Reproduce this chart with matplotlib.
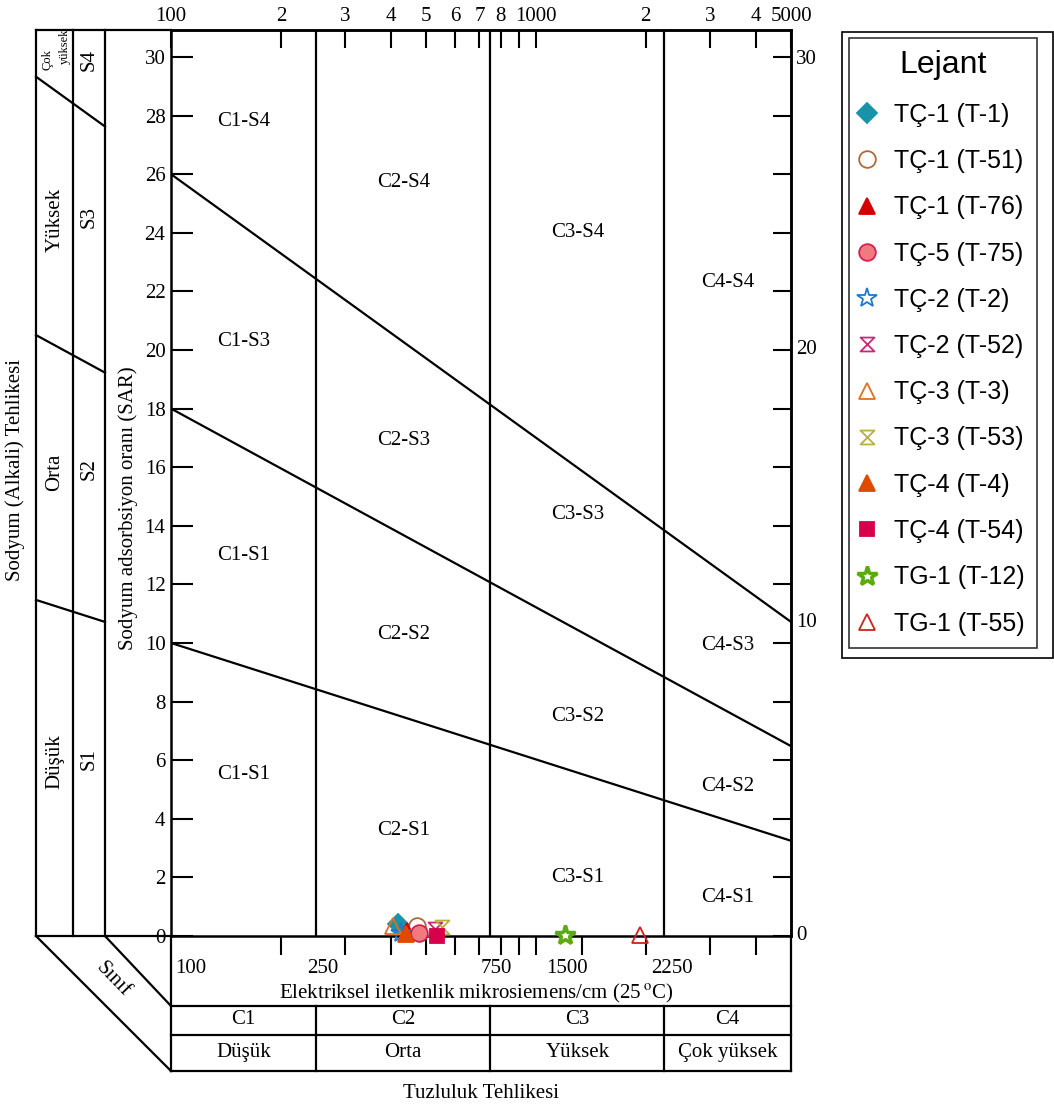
import matplotlib.pyplot as plt
import numpy as np
from matplotlib.path import Path
from matplotlib.patches import Rectangle

# ABD Tuzluluk Laboratuvarı (US Salinity) diyagramı - sulama suyu sınıflaması
plt.rcParams['font.family'] = ['Liberation Serif', 'DejaVu Serif']
plt.rcParams['mathtext.fontset'] = 'stix'

# Örnek noktaları: EC (mikrosiemens/cm) ve SAR
ornekler = ['TÇ-1 (T-1)', 'TÇ-1 (T-51)', 'TÇ-1 (T-76)', 'TÇ-5 (T-75)',
            'TÇ-2 (T-2)', 'TÇ-2 (T-52)', 'TÇ-3 (T-3)', 'TÇ-3 (T-53)',
            'TÇ-4 (T-4)', 'TÇ-4 (T-54)', 'TG-1 (T-12)', 'TG-1 (T-55)']
ec = [419, 472, 444, 478, 427, 529, 406, 552, 440, 535, 1200, 1928]
sar = [0.41, 0.34, 0.17, 0.10, 0.10, 0.24, 0.34, 0.31, 0.07, 0.0, 0.03, 0.05]

# Sınıf sınırları
ec_sinirlar = [250, 750, 2250]
sar_100 = [10, 18, 26]          # EC = 100'deki SAR sınır değerleri
sar_5000 = [3.25, 6.48, 10.72]  # EC = 5000'deki SAR sınır değerleri

c_siniflar = ['C1', 'C2', 'C3', 'C4']
c_adlar = ['Düşük', 'Orta', 'Yüksek', 'Çok yüksek']
bolgeler = [['C1-S1', 'C1-S1', 'C1-S3', 'C1-S4'],
            ['C2-S1', 'C2-S2', 'C2-S3', 'C2-S4'],
            ['C3-S1', 'C3-S2', 'C3-S3', 'C3-S4'],
            ['C4-S1', 'C4-S2', 'C4-S3', 'C4-S4']]
bolge_sar = [[5.5, 13.0, 20.3, 27.8],
             [3.6, 10.3, 16.9, 25.7],
             [2.0, 7.5, 14.4, 24.0],
             [1.3, 5.1, 9.9, 22.3]]

ust_tikler = [100, 200, 300, 400, 500, 600, 700, 800, 900, 1000, 2000, 3000, 4000, 5000]
ust_etiketler = ['100', '2', '3', '4', '5', '6', '7', '8', '', '1000', '2', '3', '4', '5000']
alt_tikler = [200, 300, 400, 500, 600, 700, 800, 900, 1000, 1340, 2000, 3000, 4000]
alt_etiketler = ['100', '250', '750', '1500', '2250']
alt_etiket_x = [113, 261, 781, 1216, 2361]

# Kum saati işareti
kum_saati = Path([(-1, 1), (1, 1), (-1, -1), (1, -1), (-1, 1)],
                 [Path.MOVETO, Path.LINETO, Path.LINETO, Path.LINETO, Path.CLOSEPOLY])

stiller = [
    dict(marker='D', color='#1a93a8', mfc='#1a93a8', ms=10),
    dict(marker='o', color='#b0693a', mfc='none', ms=12),
    dict(marker='^', color='#d40000', mfc='#d40000', ms=12),
    dict(marker='o', color='#d42050', mfc='#f07a80', ms=12),
    dict(marker='*', color='#1f78c8', mfc='none', ms=15),
    dict(marker=kum_saati, color='#c8287a', mfc='none', ms=10),
    dict(marker='^', color='#e07020', mfc='none', ms=12),
    dict(marker=kum_saati, color='#b8b040', mfc='none', ms=10),
    dict(marker='^', color='#e04a00', mfc='#e04a00', ms=12),
    dict(marker='s', color='#d8004a', mfc='#d8004a', ms=10),
    dict(marker='*', color='#5aaa10', mfc='white', ms=15, mew=2.5),
    dict(marker='^', color='#d02020', mfc='none', ms=12),
]

W, H = 1054, 1104
fig = plt.figure(figsize=(W / 100, H / 100), dpi=100)

# Çerçeve çizgileri için piksel koordinatlı arka eksen
cerceve = fig.add_axes([0, 0, 1, 1], zorder=-1)
cerceve.set_xlim(0, W)
cerceve.set_ylim(H, 0)
cerceve.axis('off')

ax = fig.add_axes([171 / W, 1 - 936 / H, 620 / W, 906 / H])
ax.set_xscale('log')
ax.set_xlim(100, 5000)
ax.set_ylim(0, 30.92)
for sp in ax.spines.values():
    sp.set_linewidth(1.8)

lw = 1.6
# Sol panel (sodyum tehlikesi sınıfları)
for x in [36, 73, 105]:
    cerceve.plot([x, x], [30, 936], color='k', lw=lw)
cerceve.plot([36, 171], [30, 30], color='k', lw=lw)
cerceve.plot([36, 171], [936, 936], color='k', lw=lw)
cerceve.plot([36, 171], [936, 1071], color='k', lw=lw)
cerceve.plot([105, 171], [936, 1006], color='k', lw=lw)
# Alt tablo
for x in [171, 791]:
    cerceve.plot([x, x], [936, 1071], color='k', lw=lw)
for y in [1006, 1035, 1071]:
    cerceve.plot([171, 791], [y, y], color='k', lw=lw)

# Sınıf sınırları (dikey)
for e in ec_sinirlar:
    ax.plot([e, e], [0, 1], color='k', lw=lw, transform=ax.get_xaxis_transform())
    ax.plot([e, e], [-0.0773, -0.149], color='k', lw=lw,
            transform=ax.get_xaxis_transform(), clip_on=False)

# SAR sınır çizgileri (log EC'ye göre doğrusal)
log_genislik = np.log10(5000) - np.log10(100)
for s1, s2 in zip(sar_100, sar_5000):
    ax.plot([100, 5000], [s1, s2], color='k', lw=lw)
    # Sol paneldeki uzantı
    kx = np.array([(36 - 171) / 620, (105 - 171) / 620])
    ex = 10 ** (2 + kx * log_genislik)
    ey = s1 + (s2 - s1) * kx
    ax.plot(ex, ey, color='k', lw=lw, clip_on=False)

# Eksen tikleri
ax.set_yticks(range(0, 31, 2))
ax.tick_params(axis='y', left=True, right=False, direction='in', length=16,
               width=1.5, labelsize=15, pad=4)
ax.set_xticks(alt_tikler)
ax.set_xticks([], minor=True)
ax.tick_params(axis='x', which='both', bottom=True, top=False, direction='out',
               length=14, width=1.5, labelbottom=False)

ust = ax.secondary_xaxis('top')
ust.set_xticks(ust_tikler)
ust.set_xticks([], minor=True)
ust.set_xticklabels(ust_etiketler)
ust.tick_params(direction='in', length=13, width=1.5, labelsize=15, pad=3)
ust.spines['top'].set_linewidth(1.8)

sag = ax.secondary_yaxis('right')
sag.set_yticks(range(0, 31, 2))
sag.set_yticklabels([])
sag.tick_params(direction='in', length=13, width=1.5)
sag.spines['right'].set_linewidth(1.8)
for deger, konum in zip(['0', '10', '20', '30'], [0, 10.7, 20, 29.9]):
    ax.text(1.008, konum, deger, transform=ax.get_yaxis_transform(),
            ha='left', va='center', fontsize=15)

for et, x in zip(alt_etiketler, alt_etiket_x):
    ax.text(x, -0.036, et, transform=ax.get_xaxis_transform(),
            ha='center', va='center', fontsize=15)
ax.text(0.492, -0.063, r'Elektriksel iletkenlik mikrosiemens/cm (25$\,^{\mathrm{o}}$C)',
        transform=ax.transAxes, ha='center', va='center', fontsize=15)

# Bölge adları ve alt tablo yazıları
sinir_tam = [100] + ec_sinirlar + [5000]
for i in range(4):
    xm = np.sqrt(sinir_tam[i] * sinir_tam[i + 1])
    for ad, s in zip(bolgeler[i], bolge_sar[i]):
        ax.text(xm, s, ad, ha='center', va='center', fontsize=15)
    ax.text(xm, -0.0927, c_siniflar[i], transform=ax.get_xaxis_transform(),
            ha='center', va='center', fontsize=15, clip_on=False)
    ax.text(xm, -0.129, c_adlar[i], transform=ax.get_xaxis_transform(),
            ha='center', va='center', fontsize=15, clip_on=False)

# Eksen başlıkları ve sol panel yazıları
cerceve.text(128, 508, 'Sodyum adsorbsiyon oranı (SAR)', rotation=90,
             ha='center', va='center', fontsize=15)
cerceve.text(15, 470, 'Sodyum (Alkali) Tehlikesi', rotation=90,
             ha='center', va='center', fontsize=15)
cerceve.text(481, 1093, 'Tuzluluk Tehlikesi', ha='center', va='center', fontsize=15)
cerceve.text(113, 980, 'Sınıf', rotation=-46, ha='center', va='center', fontsize=15)
cerceve.text(48, 60, 'Çok', rotation=90, ha='center', va='center', fontsize=9)
cerceve.text(65, 46, 'yüksek', rotation=90, ha='center', va='center', fontsize=9)
for ad, s_ad, y in [('Yüksek', 'S3', 220), ('Orta', 'S2', 472), ('Düşük', 'S1', 762)]:
    cerceve.text(55, y, ad, rotation=90, ha='center', va='center', fontsize=15)
    cerceve.text(89, y - 3, s_ad, rotation=90, ha='center', va='center', fontsize=15)
cerceve.text(89, 60, 'S4', rotation=90, ha='center', va='center', fontsize=15)

# Örnek noktaları
tutamaklar = []
for ad, x, y, st in zip(ornekler, ec, sar, stiller):
    st = dict(st)
    st.setdefault('mew', 1.3)
    h, = ax.plot([x], [y], linestyle='none', label=ad, clip_on=False, zorder=5, **st)
    tutamaklar.append(h)

lej = fig.legend(handles=tutamaklar, loc='upper left',
                 bbox_to_anchor=(849 / W, 1 - 38 / H),
                 prop={'family': 'Liberation Sans', 'size': 18},
                 title='Lejant', title_fontproperties={'family': 'Liberation Sans', 'size': 23},
                 frameon=True, fancybox=False, edgecolor='k', borderpad=0.5,
                 labelspacing=0.89, handlelength=0.4, handletextpad=0.9,
                 borderaxespad=0, numpoints=1)
lej.get_frame().set_linewidth(1.2)
cerceve.add_patch(Rectangle((842, 32), 211, 626, fill=False, lw=1.2, ec='k'))

fig.savefig('out.png', dpi=100)
